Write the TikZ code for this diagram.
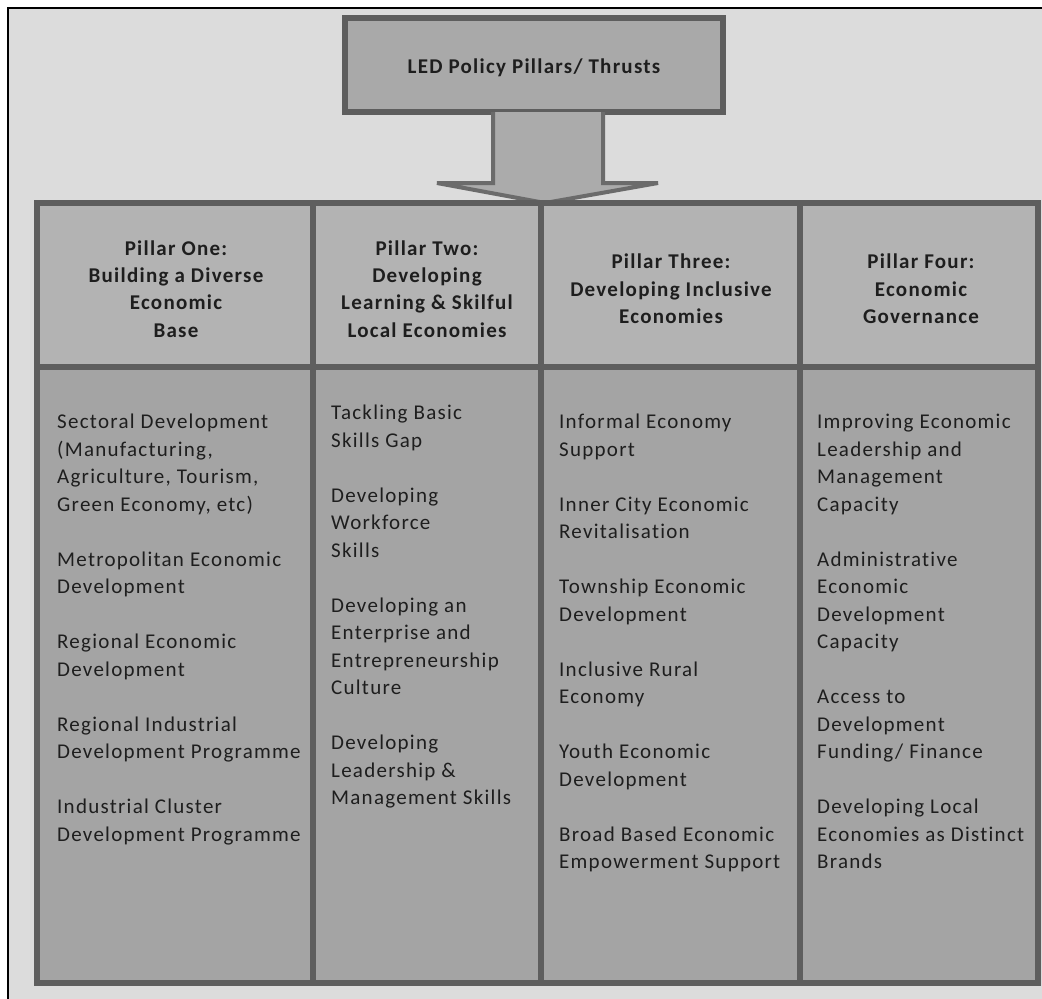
\documentclass[tikz,border=0pt]{standalone}
\usepackage{fontspec}
\setmainfont{Carlito}[LetterSpace=6,Ligatures={NoCommon}]
\definecolor{bgc}{HTML}{DCDCDC}
\definecolor{headc}{HTML}{B3B3B3}
\definecolor{bodyc}{HTML}{A4A4A4}
\definecolor{bordc}{HTML}{5E5E5E}
\definecolor{topc}{HTML}{A9A9A9}
\definecolor{arrc}{HTML}{ABABAB}
\definecolor{arrb}{HTML}{6B6B6B}
\definecolor{txtc}{HTML}{1E1E1E}
\begin{document}
\begin{tikzpicture}[x=1pt,y=-1pt,
  cell/.style={draw=bordc, line width=5.5pt, inner sep=0pt, outer sep=0pt},
  hcell/.style={cell, fill=headc, minimum height=164pt, align=center,
    font=\fontsize{21}{27.3}\selectfont\bfseries, text=txtc},
  htext/.style={inner sep=0pt, align=center,
    font=\fontsize{21}{27.3}\selectfont\bfseries, text=txtc},
  bcell/.style={cell, fill=bodyc, minimum height=616pt},
  btext/.style={anchor=north west, inner sep=0pt, align=left,
    font=\fontsize{21}{27.5}\selectfont, text=txtc},
  topbox/.style={draw=bordc, line width=6pt, fill=topc, minimum width=378pt,
    minimum height=94pt, inner sep=0pt},
  toptext/.style={inner sep=0pt, font=\fontsize{21}{27}\selectfont\bfseries, text=txtc},
  blockarrow/.style={draw=arrb, line width=4pt, fill=arrc, line join=miter}
]
\useasboundingbox (0,0) rectangle (1042,999);
\fill[white] (0,0) rectangle (1042,999);
\fill[bgc] (8,8) rectangle (1042,999);
\draw[black, line width=2pt] (8,999) -- (8,8) -- (1042,8);

% top box
\node[topbox] (top) at (534,65) {};
\node[toptext] (toplabel) at (534,68) {LED Policy Pillars/ Thrusts};

% block arrow from top box to table
\coordinate (sl) at (493,112);
\coordinate (sr) at (603,112);
\coordinate (tip) at (545,203);
\draw[blockarrow] (sl) -- (493,183) -- (437,183) -- (tip) -- (658,183) -- (603,183) -- (sr);

% body cells
\node[bcell, minimum width=276pt] (b1) at (175,675) {};
\node[bcell, minimum width=228pt] (b2) at (427,675) {};
\node[bcell, minimum width=259pt] (b3) at (670.5,675) {};
\node[bcell, minimum width=238pt] (b4) at (919,675) {};

% header cells
\node[hcell, minimum width=276pt] (h1) at (175,285) {};
\node[hcell, minimum width=228pt] (h2) at (427,285) {};
\node[hcell, minimum width=259pt] (h3) at (670.5,285) {};
\node[hcell, minimum width=238pt] (h4) at (919,285) {};
\node[htext] (ht1) at (176,289) {Pillar One:\\Building a Diverse\\Economic\\Base};
\node[htext] (ht2) at (427,289) {Pillar Two:\\Developing\\Learning \& Skilful\\Local Economies};
\node[htext] (ht3) at (671,289) {Pillar Three:\\Developing Inclusive\\Economies};
\node[htext] (ht4) at (921,289) {Pillar Four:\\Economic\\Governance};

% body texts
\node[btext] (t1) at (57,414) {Sectoral Development\\(Manufacturing,\\Agriculture, Tourism,\\Green Economy, etc)\\[27.5pt]
Metropolitan Economic\\Development\\[27.5pt]
Regional Economic\\Development\\[27.5pt]
Regional Industrial\\Development Programme\\[27.5pt]
Industrial Cluster\\Development Programme};
\node[btext] (t2) at (331,405) {Tackling Basic\\Skills Gap\\[27.5pt]
Developing\\Workforce\\Skills\\[27.5pt]
Developing an\\Enterprise and\\Entrepreneurship\\Culture\\[27.5pt]
Developing\\Leadership \&\\Management Skills};
\node[btext] (t3) at (559,414) {Informal Economy\\Support\\[27.5pt]
Inner City Economic\\Revitalisation\\[27.5pt]
Township Economic\\Development\\[27.5pt]
Inclusive Rural\\Economy\\[27.5pt]
Youth Economic\\Development\\[27.5pt]
Broad Based Economic\\Empowerment Support};
\node[btext] (t4) at (817,414) {Improving Economic\\Leadership and\\Management\\Capacity\\[27.5pt]
Administrative\\Economic\\Development\\Capacity\\[27.5pt]
Access to\\Development\\Funding/ Finance\\[27.5pt]
Developing Local\\Economies as Distinct\\Brands};
\end{tikzpicture}
\end{document}
